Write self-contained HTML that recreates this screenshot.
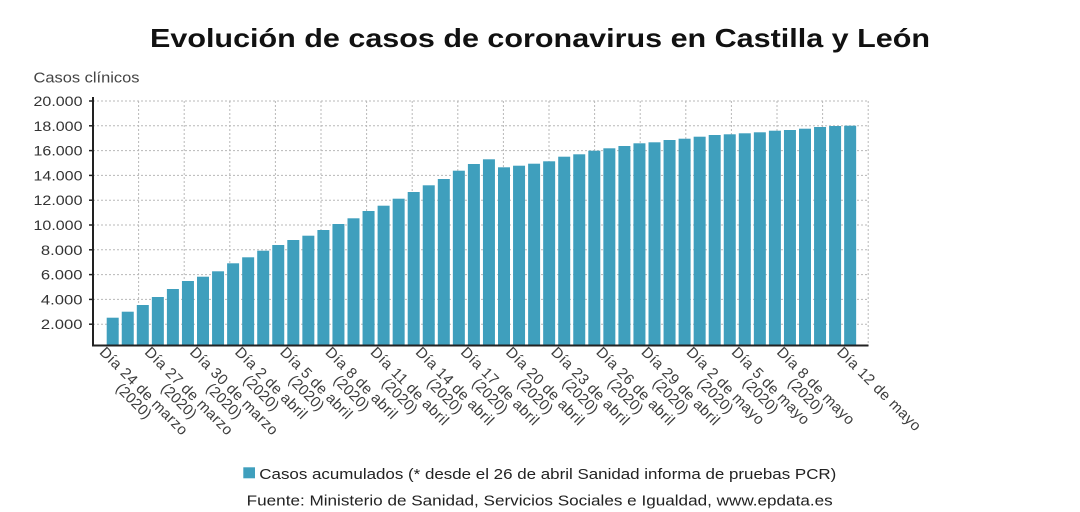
<!DOCTYPE html>
<html>
<head>
<meta charset="utf-8">
<style>
  html, body { margin: 0; padding: 0; background: #ffffff; }
  body { width: 1080px; height: 512px; overflow: hidden; }
  svg { display: block; }
  text { font-family: "Liberation Sans", "DejaVu Sans", sans-serif; }
</style>
</head>
<body>
<svg width="1080" height="512" viewBox="0 0 1080 512" xmlns="http://www.w3.org/2000/svg">
  <rect x="0" y="0" width="1080" height="512" fill="#ffffff"/>

  <!-- Title -->
  <text x="150" y="47" font-size="26" font-weight="bold" fill="#111" textLength="780" lengthAdjust="spacingAndGlyphs">Evolución de casos de coronavirus en Castilla y León</text>

  <!-- Y axis title -->
  <text x="33.5" y="82.7" font-size="15" fill="#444" textLength="106" lengthAdjust="spacingAndGlyphs">Casos clínicos</text>

  <!-- Gridlines -->
  <g stroke="#b8b8b8" stroke-width="1" stroke-dasharray="2 2" fill="none">
    <line x1="93" y1="101" x2="868" y2="101"/>
    <line x1="93" y1="125.8" x2="868" y2="125.8"/>
    <line x1="93" y1="150.6" x2="868" y2="150.6"/>
    <line x1="93" y1="175.4" x2="868" y2="175.4"/>
    <line x1="93" y1="200.2" x2="868" y2="200.2"/>
    <line x1="93" y1="225" x2="868" y2="225"/>
    <line x1="93" y1="249.8" x2="868" y2="249.8"/>
    <line x1="93" y1="274.6" x2="868" y2="274.6"/>
    <line x1="93" y1="299.4" x2="868" y2="299.4"/>
    <line x1="93" y1="324.2" x2="868" y2="324.2"/>
    <line x1="138.6" y1="101" x2="138.6" y2="346"/>
    <line x1="184.2" y1="101" x2="184.2" y2="346"/>
    <line x1="229.8" y1="101" x2="229.8" y2="346"/>
    <line x1="275.4" y1="101" x2="275.4" y2="346"/>
    <line x1="321" y1="101" x2="321" y2="346"/>
    <line x1="366.6" y1="101" x2="366.6" y2="346"/>
    <line x1="412.2" y1="101" x2="412.2" y2="346"/>
    <line x1="457.8" y1="101" x2="457.8" y2="346"/>
    <line x1="503.4" y1="101" x2="503.4" y2="346"/>
    <line x1="549" y1="101" x2="549" y2="346"/>
    <line x1="594.6" y1="101" x2="594.6" y2="346"/>
    <line x1="640.2" y1="101" x2="640.2" y2="346"/>
    <line x1="685.8" y1="101" x2="685.8" y2="346"/>
    <line x1="731.4" y1="101" x2="731.4" y2="346"/>
    <line x1="777" y1="101" x2="777" y2="346"/>
    <line x1="822.6" y1="101" x2="822.6" y2="346"/>
    <line x1="868.2" y1="101" x2="868.2" y2="346"/>
  </g>

  <!-- Bars -->
  <g fill="#3f9fbd">
    <rect x="106.7" y="317.7" width="12" height="28.3"/>
    <rect x="121.75" y="311.7" width="12" height="34.3"/>
    <rect x="136.8" y="305" width="12" height="41"/>
    <rect x="151.85" y="297" width="12" height="49"/>
    <rect x="166.9" y="289" width="12" height="57"/>
    <rect x="181.95" y="281" width="12" height="65"/>
    <rect x="197.0" y="276.7" width="12" height="69.3"/>
    <rect x="212.05" y="271.3" width="12" height="74.7"/>
    <rect x="227.1" y="263.3" width="12" height="82.7"/>
    <rect x="242.15" y="257.3" width="12" height="88.7"/>
    <rect x="257.2" y="250.7" width="12" height="95.3"/>
    <rect x="272.25" y="245" width="12" height="101"/>
    <rect x="287.3" y="240" width="12" height="106"/>
    <rect x="302.35" y="235.7" width="12" height="110.3"/>
    <rect x="317.4" y="230" width="12" height="116"/>
    <rect x="332.45" y="224" width="12" height="122"/>
    <rect x="347.5" y="218.3" width="12" height="127.7"/>
    <rect x="362.55" y="211" width="12" height="135"/>
    <rect x="377.6" y="205.7" width="12" height="140.3"/>
    <rect x="392.65" y="198.7" width="12" height="147.3"/>
    <rect x="407.7" y="192" width="12" height="154"/>
    <rect x="422.75" y="185.3" width="12" height="160.7"/>
    <rect x="437.8" y="179" width="12" height="167"/>
    <rect x="452.85" y="170.7" width="12" height="175.3"/>
    <rect x="467.9" y="164" width="12" height="182"/>
    <rect x="482.95" y="159.3" width="12" height="186.7"/>
    <rect x="498.0" y="167.3" width="12" height="178.7"/>
    <rect x="513.05" y="165.7" width="12" height="180.3"/>
    <rect x="528.1" y="163.7" width="12" height="182.3"/>
    <rect x="543.15" y="161.3" width="12" height="184.7"/>
    <rect x="558.2" y="156.7" width="12" height="189.3"/>
    <rect x="573.25" y="154.3" width="12" height="191.7"/>
    <rect x="588.3" y="150.7" width="12" height="195.3"/>
    <rect x="603.35" y="148.3" width="12" height="197.7"/>
    <rect x="618.4" y="146" width="12" height="200"/>
    <rect x="633.45" y="143.3" width="12" height="202.7"/>
    <rect x="648.5" y="142.3" width="12" height="203.7"/>
    <rect x="663.55" y="140" width="12" height="206"/>
    <rect x="678.6" y="138.7" width="12" height="207.3"/>
    <rect x="693.65" y="136.7" width="12" height="209.3"/>
    <rect x="708.7" y="135" width="12" height="211"/>
    <rect x="723.75" y="134.3" width="12" height="211.7"/>
    <rect x="738.8" y="133.3" width="12" height="212.7"/>
    <rect x="753.85" y="132.3" width="12" height="213.7"/>
    <rect x="768.9" y="130.7" width="12" height="215.3"/>
    <rect x="783.95" y="130" width="12" height="216"/>
    <rect x="799.0" y="128.7" width="12" height="217.3"/>
    <rect x="814.05" y="127" width="12" height="219"/>
    <rect x="829.1" y="126" width="12" height="220"/>
    <rect x="844.15" y="125.7" width="12" height="220.3"/>
  </g>

  <!-- Axes -->
  <g stroke="#222" fill="none">
    <line x1="93" y1="97" x2="93" y2="346.5" stroke-width="2"/>
    <line x1="92" y1="345.5" x2="868.5" y2="345.5" stroke-width="2"/>
    <line x1="89" y1="101" x2="93" y2="101" stroke-width="1.5"/>
    <line x1="89" y1="125.8" x2="93" y2="125.8" stroke-width="1.5"/>
    <line x1="89" y1="150.6" x2="93" y2="150.6" stroke-width="1.5"/>
    <line x1="89" y1="175.4" x2="93" y2="175.4" stroke-width="1.5"/>
    <line x1="89" y1="200.2" x2="93" y2="200.2" stroke-width="1.5"/>
    <line x1="89" y1="225" x2="93" y2="225" stroke-width="1.5"/>
    <line x1="89" y1="249.8" x2="93" y2="249.8" stroke-width="1.5"/>
    <line x1="89" y1="274.6" x2="93" y2="274.6" stroke-width="1.5"/>
    <line x1="89" y1="299.4" x2="93" y2="299.4" stroke-width="1.5"/>
    <line x1="89" y1="324.2" x2="93" y2="324.2" stroke-width="1.5"/>
  </g>

  <!-- Y tick labels -->
  <g font-size="14" fill="#333">
    <text x="33.5" y="106" textLength="49" lengthAdjust="spacingAndGlyphs">20.000</text>
    <text x="33.5" y="130.8" textLength="49" lengthAdjust="spacingAndGlyphs">18.000</text>
    <text x="33.5" y="155.6" textLength="49" lengthAdjust="spacingAndGlyphs">16.000</text>
    <text x="33.5" y="180.4" textLength="49" lengthAdjust="spacingAndGlyphs">14.000</text>
    <text x="33.5" y="205.2" textLength="49" lengthAdjust="spacingAndGlyphs">12.000</text>
    <text x="33.5" y="230" textLength="49" lengthAdjust="spacingAndGlyphs">10.000</text>
    <text x="40.9" y="254.8" textLength="41.6" lengthAdjust="spacingAndGlyphs">8.000</text>
    <text x="40.9" y="279.6" textLength="41.6" lengthAdjust="spacingAndGlyphs">6.000</text>
    <text x="40.9" y="304.4" textLength="41.6" lengthAdjust="spacingAndGlyphs">4.000</text>
    <text x="40.9" y="329.2" textLength="41.6" lengthAdjust="spacingAndGlyphs">2.000</text>
  </g>

  <!-- X tick labels (rotated 45deg) -->
  <g font-size="15" fill="#3c3c3c">
    <g transform="translate(98.7,353) rotate(45)"><text x="0" y="0" textLength="117.4" lengthAdjust="spacing">Día 24 de marzo</text><text x="58.7" y="14" text-anchor="middle">(2020)</text></g>
    <g transform="translate(143.85,353) rotate(45)"><text x="0" y="0" textLength="117.4" lengthAdjust="spacing">Día 27 de marzo</text><text x="58.7" y="14" text-anchor="middle">(2020)</text></g>
    <g transform="translate(189,353) rotate(45)"><text x="0" y="0" textLength="117.4" lengthAdjust="spacing">Día 30 de marzo</text><text x="58.7" y="14" text-anchor="middle">(2020)</text></g>
    <g transform="translate(234.15,353) rotate(45)"><text x="0" y="0" textLength="94.8" lengthAdjust="spacing">Día 2 de abril</text><text x="47.4" y="14" text-anchor="middle">(2020)</text></g>
    <g transform="translate(279.3,353) rotate(45)"><text x="0" y="0" textLength="94.8" lengthAdjust="spacing">Día 5 de abril</text><text x="47.4" y="14" text-anchor="middle">(2020)</text></g>
    <g transform="translate(324.45,353) rotate(45)"><text x="0" y="0" textLength="94.8" lengthAdjust="spacing">Día 8 de abril</text><text x="47.4" y="14" text-anchor="middle">(2020)</text></g>
    <g transform="translate(369.6,353) rotate(45)"><text x="0" y="0" textLength="103.6" lengthAdjust="spacing">Día 11 de abril</text><text x="51.8" y="14" text-anchor="middle">(2020)</text></g>
    <g transform="translate(414.75,353) rotate(45)"><text x="0" y="0" textLength="103.6" lengthAdjust="spacing">Día 14 de abril</text><text x="51.8" y="14" text-anchor="middle">(2020)</text></g>
    <g transform="translate(459.9,353) rotate(45)"><text x="0" y="0" textLength="103.6" lengthAdjust="spacing">Día 17 de abril</text><text x="51.8" y="14" text-anchor="middle">(2020)</text></g>
    <g transform="translate(505.05,353) rotate(45)"><text x="0" y="0" textLength="103.6" lengthAdjust="spacing">Día 20 de abril</text><text x="51.8" y="14" text-anchor="middle">(2020)</text></g>
    <g transform="translate(550.2,353) rotate(45)"><text x="0" y="0" textLength="103.6" lengthAdjust="spacing">Día 23 de abril</text><text x="51.8" y="14" text-anchor="middle">(2020)</text></g>
    <g transform="translate(595.35,353) rotate(45)"><text x="0" y="0" textLength="103.6" lengthAdjust="spacing">Día 26 de abril</text><text x="51.8" y="14" text-anchor="middle">(2020)</text></g>
    <g transform="translate(640.5,353) rotate(45)"><text x="0" y="0" textLength="103.6" lengthAdjust="spacing">Día 29 de abril</text><text x="51.8" y="14" text-anchor="middle">(2020)</text></g>
    <g transform="translate(685.65,353) rotate(45)"><text x="0" y="0" textLength="102.8" lengthAdjust="spacing">Día 2 de mayo</text><text x="51.4" y="14" text-anchor="middle">(2020)</text></g>
    <g transform="translate(730.8,353) rotate(45)"><text x="0" y="0" textLength="102.8" lengthAdjust="spacing">Día 5 de mayo</text><text x="51.4" y="14" text-anchor="middle">(2020)</text></g>
    <g transform="translate(775.95,353) rotate(45)"><text x="0" y="0" textLength="102.8" lengthAdjust="spacing">Día 8 de mayo</text><text x="51.4" y="14" text-anchor="middle">(2020)</text></g>
    <g transform="translate(836.15,353) rotate(45)"><text x="0" y="0" textLength="111.6" lengthAdjust="spacing">Día 12 de mayo</text></g>
  </g>

  <!-- Legend -->
  <rect x="243.3" y="467.3" width="11.7" height="11" fill="#3f9fbd"/>
  <text x="259.3" y="479" font-size="15" fill="#222" textLength="577" lengthAdjust="spacingAndGlyphs">Casos acumulados (* desde el 26 de abril Sanidad informa de pruebas PCR)</text>

  <!-- Source -->
  <text x="246.7" y="505.7" font-size="15" fill="#222" textLength="586" lengthAdjust="spacingAndGlyphs">Fuente: Ministerio de Sanidad, Servicios Sociales e Igualdad, www.epdata.es</text>
</svg>
</body>
</html>
